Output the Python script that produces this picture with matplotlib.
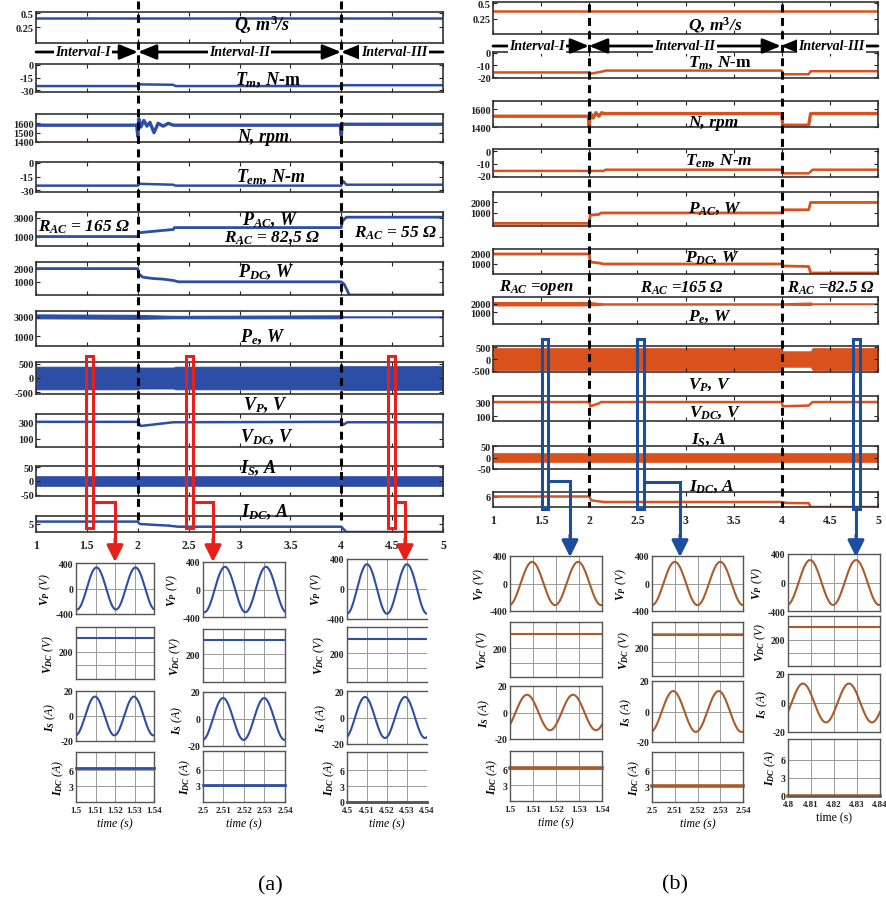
import numpy as np
import matplotlib
matplotlib.use('Agg')
import matplotlib.pyplot as plt
from matplotlib.patches import Rectangle
from matplotlib.transforms import blended_transform_factory

# ---------------- data ----------------
# (a) AC load on the generator terminals
q_a_t, q_a = [1, 5], [0.42, 0.42]
tm_a_t = [1, 2, 2.02, 2.35, 2.37, 4, 4.02, 5]
tm_a = [-25, -25, -23, -23.5, -25, -25, -24, -24]
n_a_t = [1, 1.99, 2.0, 2.01, 2.03, 2.06, 2.09, 2.12, 2.16, 2.2, 2.25, 2.3, 2.35, 3.99, 4.0, 4.01, 4.03, 5]
n_a = [1580, 1580, 1460, 1650, 1560, 1630, 1570, 1610, 1500, 1600, 1570, 1600, 1580, 1580, 1470, 1600, 1590, 1590]
tem_a_t = [1, 2, 2.02, 2.35, 2.37, 4, 4.02, 4.05, 5]
tem_a = [-25, -25, -23, -24, -25, -25, -20, -24, -24]
pac_a_t = [1, 2, 2.01, 2.1, 2.2, 2.3, 2.35, 2.36, 4, 4.01, 4.05, 5]
pac_a = [1000, 1000, 1400, 1500, 1600, 1700, 1750, 1950, 1950, 2600, 3050, 3050]
pdc_a_t = [1, 2, 2.01, 2.05, 2.15, 2.25, 2.35, 2.4, 4, 4.03, 4.08, 5]
pdc_a = [2000, 2000, 1600, 1350, 1250, 1200, 1100, 1000, 1000, 800, 0, 0]
pe_a_t = [1, 2, 2.35, 4, 4.02, 5]
pe_a_lo = [2850, 2800, 2850, 2850, 2950, 2950]
pe_a_hi = [3250, 3200, 3100, 3150, 3050, 3050]
vp_a_t = [1, 2, 2.02, 2.35, 2.37, 4, 4.02, 5]
vp_a_env = [400, 400, 370, 370, 400, 400, 420, 420]
vdc_a_t = [1, 2, 2.03, 2.35, 4, 4.02, 4.06, 5]
vdc_a = [305, 305, 255, 300, 305, 270, 300, 300]
is_a_t, is_a_env = [1, 5], [20, 20]
idc_a_t = [1, 2, 2.02, 2.15, 2.3, 2.4, 4, 4.05, 5]
idc_a = [6.5, 6.5, 5, 4.5, 4, 3.3, 3.3, 0, 0]

# (b) AC load switched from open
q_b_t, q_b = [1, 5], [0.37, 0.37]
tm_b_t = [1, 2, 2.02, 2.15, 2.17, 4, 4.01, 4.28, 4.3, 5]
tm_b = [-16, -16, -17, -15, -14.5, -14.5, -17.5, -17.5, -15, -15]
n_b_t = [1, 1.99, 2.0, 2.01, 2.04, 2.07, 2.1, 2.13, 2.15, 4, 4.01, 4.28, 4.3, 5]
n_b = [1520, 1520, 1400, 1560, 1500, 1560, 1520, 1560, 1550, 1550, 1420, 1420, 1550, 1550]
tem_b_t = [1, 2, 2.15, 2.17, 4, 4.01, 4.28, 4.32, 5]
tem_b = [-16, -16, -16, -15, -15, -18, -18, -15, -15]
pac_b_t = [1, 2, 2.01, 2.1, 2.12, 4, 4.01, 4.28, 4.3, 5]
pac_b = [0, 0, 800, 850, 1000, 1000, 1300, 1300, 2000, 2000]
pdc_b_t = [1, 2, 2.01, 2.1, 2.15, 4, 4.01, 4.28, 4.3, 5]
pdc_b = [2000, 2000, 1200, 1100, 1000, 1000, 800, 750, 100, 100]
pe_b_t = [1, 2, 2.15, 4, 4.3, 4.32, 5]
pe_b_lo = [1800, 1800, 1900, 1900, 1850, 1950, 1950]
pe_b_hi = [2200, 2200, 2050, 2050, 2150, 2050, 2050]
vp_b_t = [1, 4, 4.01, 4.3, 4.32, 5]
vp_b_env = [470, 470, 330, 330, 470, 470]
vdc_b_t = [1, 2, 2.01, 2.1, 2.12, 4, 4.01, 4.28, 4.32, 5]
vdc_b = [300, 300, 240, 280, 300, 300, 240, 250, 300, 300]
is_b_t, is_b_env = [1, 5], [22, 22]
idc_b_t = [1, 2, 2.02, 2.1, 2.15, 4, 4.05, 4.28, 4.3, 5]
idc_b = [6.3, 6.3, 4, 3.4, 3, 3, 2.4, 2.3, 0, 0]

# zoomed windows (start time, 50 Hz waveforms: amplitude and time of first peak)
freq = 50
win_a = [1.5, 2.5, 4.5]
vp_amp_a, vp_peak_a = [330, 330, 330], [1.5105, 2.5107, 4.5100]
is_amp_a, is_peak_a = [15.5, 15.5, 15.5], [1.5097, 2.5098, 4.5090]
vdc_win_a = [300, 300, 300]
idc_win_a = [6.5, 3.2, 0]
win_b = [1.5, 2.5, 4.8]
vp_amp_b, vp_peak_b = [315, 315, 315], [1.5096, 2.5100, 4.8096]
is_amp_b, is_peak_b = [13.4, 13.4, 13.4], [1.5074, 2.5093, 4.8065]
vdc_win_b = [300, 290, 300]
idc_win_b = [6.3, 3.0, 0]

# ---------------- figure ----------------
plt.rcParams['font.family'] = 'Liberation Serif'
plt.rcParams['font.weight'] = 'bold'
plt.rcParams['axes.unicode_minus'] = False
plt.rcParams['mathtext.fontset'] = 'custom'
plt.rcParams['mathtext.it'] = 'Liberation Serif:italic:bold'
plt.rcParams['mathtext.rm'] = 'Liberation Serif'
plt.rcParams['mathtext.bf'] = 'Liberation Serif:bold'

W, H = 886, 903
fig = plt.figure(figsize=(W / 100, H / 100), dpi=100)

BLUE = '#2d4ea6'
ORANGE = '#d9521d'
BROWN = '#ad5a2b'
RED = '#e8201c'
NAVY = '#1d4e9c'


def pax(x0, y0, x1, y1):
    return fig.add_axes([x0 / W, 1 - y1 / H, (x1 - x0) / W, (y1 - y0) / H])


def strip(xr, yr, ylim, yt, last=False):
    ax = pax(xr[0], yr[0], xr[1], yr[1])
    ax.set_xlim(1, 5)
    ax.set_ylim(*ylim)
    ax.set_xticks(np.arange(1, 5.01, 0.5))
    ax.set_yticks(yt)
    ax.set_yticklabels([f'{v:g}' for v in yt])
    ax.tick_params(direction='in', top=True, right=True, length=3, width=0.8,
                   labelsize=7.5, pad=1.5, colors='#222')
    if last:
        ax.set_xticklabels([f'{v:g}' for v in np.arange(1, 5.01, 0.5)])
        ax.tick_params(axis='x', labelsize=8.5, pad=5)
    else:
        ax.set_xticklabels([])
    for s in ax.spines.values():
        s.set_linewidth(1.2)
        s.set_color('#333')
    return ax


def panel(xr, yrs, col, data, lim_y):
    (ta, qa, tmt, tm, nt, n, temt, tem, pact, pac, pdct, pdc, pet, pelo, pehi,
     vpt, vpe, vdct, vdc, ist, ise, idct, idc) = data
    axs = []
    ax = strip(xr, yrs[0], *lim_y[0]); ax.plot(ta, qa, color=col, lw=1.8); axs.append(ax)
    ax = strip(xr, yrs[1], *lim_y[1]); ax.plot(tmt, tm, color=col, lw=1.8); axs.append(ax)
    ax = strip(xr, yrs[2], *lim_y[2]); ax.plot(nt, n, color=col, lw=2.4); axs.append(ax)
    ax = strip(xr, yrs[3], *lim_y[3]); ax.plot(temt, tem, color=col, lw=1.8); axs.append(ax)
    ax = strip(xr, yrs[4], *lim_y[4]); ax.plot(pact, pac, color=col, lw=2.0); axs.append(ax)
    ax = strip(xr, yrs[5], *lim_y[5]); ax.plot(pdct, pdc, color=col, lw=2.0); axs.append(ax)
    ax = strip(xr, yrs[6], *lim_y[6]); ax.fill_between(pet, pelo, pehi, color=col, lw=0.8); axs.append(ax)
    ax = strip(xr, yrs[7], *lim_y[7])
    ax.fill_between(vpt, -np.array(vpe), vpe, color=col, lw=0.5); axs.append(ax)
    ax = strip(xr, yrs[8], *lim_y[8]); ax.plot(vdct, vdc, color=col, lw=1.8); axs.append(ax)
    ax = strip(xr, yrs[9], *lim_y[9])
    ax.fill_between(ist, -np.array(ise), ise, color=col, lw=0.5); axs.append(ax)
    ax = strip(xr, yrs[10], *lim_y[10], last=True); ax.plot(idct, idc, color=col, lw=1.8); axs.append(ax)
    return axs


rows_a = [(13, 44), (65, 93), (115, 143), (163, 193), (213, 247), (263, 296),
          (312, 347), (363, 395), (415, 448), (467, 497), (517, 533)]
lims_a = [((-0.03, 0.52), [0.25, 0.5]), ((-32, 1), [-30, -15, 0]), ((1400, 1700), [1400, 1500, 1600]),
          ((-32, 1), [-30, -15, 0]), ((0, 3600), [1000, 3000]), ((0, 2500), [1000, 2000]),
          ((0, 3600), [1000, 3000]), ((-560, 560), [-500, 0, 500]), ((0, 400), [100, 300]),
          ((-55, 55), [-50, 0, 50]), ((0, 10), [5])]
rows_b = [(3, 35), (53, 79), (102, 128), (150, 178), (193, 227), (250, 275),
          (298, 325), (347, 373), (397, 422), (447, 470), (493, 508)]
lims_b = [((0, 0.52), [0.25, 0.5]), ((-20.5, 0.5), [-20, -10, 0]), ((1400, 1690), [1400, 1600]),
          ((-21, 2), [-20, -10, 0]), ((-250, 3000), [1000, 2000]), ((0, 2500), [1000, 2000]),
          ((-400, 2800), [1000, 2000]), ((-550, 550), [-500, 0, 500]), ((30, 386), [100, 300]),
          ((-52, 52), [-50, 0, 50]), ((0, 9), [6])]

data_a = (q_a_t, q_a, tm_a_t, tm_a, n_a_t, n_a, tem_a_t, tem_a, pac_a_t, pac_a, pdc_a_t, pdc_a,
          pe_a_t, pe_a_lo, pe_a_hi, vp_a_t, vp_a_env, vdc_a_t, vdc_a, is_a_t, is_a_env, idc_a_t, idc_a)
data_b = (q_b_t, q_b, tm_b_t, tm_b, n_b_t, n_b, tem_b_t, tem_b, pac_b_t, pac_b, pdc_b_t, pdc_b,
          pe_b_t, pe_b_lo, pe_b_hi, vp_b_t, vp_b_env, vdc_b_t, vdc_b, is_b_t, is_b_env, idc_b_t, idc_b)

axs_a = panel((36, 443), rows_a, BLUE, data_a, lims_a)
axs_b = panel((493, 878), rows_b, ORANGE, data_b, lims_b)


# ---------------- zoomed windows ----------------
def zoom_col(xr, yrs, t0, amp_vp, pk_vp, vdc, amp_is, pk_is, idc, col, idc_lw,
             upright_time=False, no_right=False):
    t = np.linspace(t0, t0 + 0.04, 400)
    xt = t0 + np.arange(0, 0.0401, 0.01)
    xtl = [f'{v:g}' for v in np.round(xt, 2)]
    specs = [
        ((-400, 400), [-400, 0, 400], ['-400', '0', '400'], r'$V_P$ (V)'),
        ((0, 380), [100, 200, 300], ['', '200', ''], r'$V_{DC}$ (V)'),
        ((-20, 20), [-20, 0, 20], ['-20', '0', '20'], r'$I_S$ (A)'),
        ((0, 9.5), [0, 3, 6] if idc == 0 else [3, 6], ['0', '3', '6'] if idc == 0 else ['3', '6'],
         r'$I_{DC}$ (A)'),
    ]
    ys = [amp_vp * np.sin(2 * np.pi * freq * (t - pk_vp) + np.pi / 2),
          np.full_like(t, vdc),
          amp_is * np.sin(2 * np.pi * freq * (t - pk_is) + np.pi / 2),
          np.full_like(t, idc)]
    for k, (yr, (ylim, yt, ytl, lab)) in enumerate(zip(yrs, specs)):
        ax = pax(xr[0], yr[0], xr[1], yr[1])
        ax.plot(t, ys[k], color=col, lw=idc_lw if k == 3 else 1.5, clip_on=(k != 3))
        ax.set_xlim(t0, t0 + 0.04)
        ax.set_ylim(*ylim)
        ax.set_xticks(xt)
        ax.set_yticks(yt)
        ax.set_yticklabels(ytl)
        ax.grid(True, color='#9a9a9a', lw=0.7)
        ax.tick_params(length=0, labelsize=7, pad=2, colors='#222')
        ax.set_ylabel(lab, fontsize=8.5, style='italic', labelpad=2)
        for s in ax.spines.values():
            s.set_linewidth(1.0)
            s.set_color('#555')
        if no_right:
            ax.spines['right'].set_visible(False)
        if k == 3:
            ax.set_xticklabels(xtl)
            ax.tick_params(axis='x', labelsize=6.5, pad=3)
            ax.set_xlabel('time (s)', fontsize=8.5, style='normal' if upright_time else 'italic',
                          labelpad=2)
        else:
            ax.set_xticklabels([])


zc_a = [(76, 154), (203, 285), (347, 427)]
zr_a = [[(564, 615), (628, 680), (692, 742), (753, 803)],
        [(563, 618), (630, 683), (693, 747), (752, 803)],
        [(560, 620), (628, 683), (692, 745), (753, 803)]]
zc_b = [(510, 602), (652, 743), (788, 880)]
zr_b = [[(557, 612), (623, 678), (687, 740), (752, 802)],
        [(557, 612), (623, 677), (682, 743), (753, 803)],
        [(555, 612), (617, 667), (675, 733), (740, 797)]]
for i in range(3):
    zoom_col(zc_a[i], zr_a[i], win_a[i], vp_amp_a[i], vp_peak_a[i], vdc_win_a[i],
             is_amp_a[i], is_peak_a[i], idc_win_a[i], BLUE, 2.0, no_right=(i == 2))
    zoom_col(zc_b[i], zr_b[i], win_b[i], vp_amp_b[i], vp_peak_b[i], vdc_win_b[i],
             is_amp_b[i], is_peak_b[i], idc_win_b[i], BROWN, 2.6, upright_time=(i == 2))

# ---------------- overlay: labels, intervals, markers ----------------
ov = fig.add_axes([0, 0, 1, 1])
ov.set_xlim(0, W)
ov.set_ylim(H, 0)
ov.axis('off')
ov.patch.set_visible(False)
ov.set_zorder(10)

LBL = dict(ha='center', va='center', style='italic', weight='bold')
labels_a = [(262, 25, r'Q, m$^{3}$/s'), (268, 80, r'$T_m$, $N$-$\mathrm{m}$'), (263, 137, 'N, rpm'),
            (271, 177, r'$T_{em}$, N-m'), (270, 220, r'$P_{AC}$, W'), (267, 272, r'$P_{DC}$, W'),
            (263, 337, r'$P_e$, W'), (265, 405, r'$V_P$, V'), (267, 437, r'$V_{DC}$, V'),
            (258, 468, r'$I_S$, A'), (265, 512, r'$I_{DC}$, A')]
for x, y, s in labels_a:
    ov.text(x, y, s, fontsize=13, **LBL)
ov.text(84, 227, r'$R_{AC}$ = 165 Ω', fontsize=12.5, **LBL)
ov.text(272, 238, r'$R_{AC}$ = 82,5 Ω', fontsize=12.5, **LBL)
ov.text(396, 233, r'$R_{AC}$ = 55 Ω', fontsize=12.5, **LBL)

labels_b = [(715, 25, r'Q, m$^{3}$/s'), (720, 63, r'$T_m$, $N$-$\mathrm{m}$'), (713, 123, 'N, rpm'),
            (719, 161, r'$T_{em}$, N-m'), (715, 209, r'$P_{AC}$, W'), (713, 258, r'$P_{DC}$, W'),
            (710, 317, r'$P_e$, W'), (709, 385, r'$V_P$, V'), (715, 413, r'$V_{DC}$, V'),
            (709, 440, r'$I_S$, A'), (712, 487, r'$I_{DC}$, A')]
for x, y, s in labels_b:
    ov.text(x, y, s, fontsize=12.5, **LBL)
ov.text(537, 288, r'$R_{AC}$ =open', fontsize=12, **LBL)
ov.text(682, 288, r'$R_{AC}$ =165 Ω', fontsize=12, **LBL)
ov.text(831, 288, r'$R_{AC}$ =82.5 Ω', fontsize=12, **LBL)

# interval boundaries (t = 2 s and t = 4 s)
for axs, y0, y1 in [(axs_a, 2, 521), (axs_b, 5, 508)]:
    tr = blended_transform_factory(axs[0].transData, ov.transData)
    for tb in [2, 4]:
        ov.plot([tb, tb], [y0, y1], color='k', lw=2.2, ls=(0, (2.6, 1.8)), transform=tr, clip_on=False)


def intervals(y, xl, xa, xb, xr, fs):
    ap = dict(lw=2, color='k', shrinkA=0, shrinkB=0, mutation_scale=10)
    ov.annotate('', xy=(xa, y), xytext=(xl, y),
                arrowprops=dict(arrowstyle='-|>,head_length=1.1,head_width=0.45', **ap))
    ov.annotate('', xy=(xb, y), xytext=(xa, y),
                arrowprops=dict(arrowstyle='<|-|>,head_length=1.1,head_width=0.45', **ap))
    ov.annotate('', xy=(xr, y), xytext=(xb, y),
                arrowprops=dict(arrowstyle='<|-,head_length=1.1,head_width=0.45', **ap))
    bb = dict(facecolor='white', edgecolor='none', pad=1)
    ov.text((xl + xa) / 2 - 4, y, 'Interval-I', fontsize=fs, bbox=bb, **LBL)
    ov.text((xa + xb) / 2, y, 'Interval-II', fontsize=fs, bbox=bb, **LBL)
    ov.text((xb + xr) / 2 + 2, y, 'Interval-III', fontsize=fs, bbox=bb, **LBL)


intervals(53, 36, 138, 341, 443, 10)
intervals(47, 493, 589, 781, 878, 10)

# zoom markers (a): red
for (xa, xb), xarr in zip([(86, 93), (186, 193), (388, 395)], [115, 213, 405]):
    ov.add_patch(Rectangle((xa, 357), xb - xa, 172, fill=False, ec=RED, lw=2.2))
    ov.plot([xb, xarr, xarr], [503, 503, 545], color=RED, lw=2.2, solid_joinstyle='miter')
    ov.annotate('', xy=(xarr, 563), xytext=(xarr, 540),
                arrowprops=dict(arrowstyle='-|>,head_length=1.0,head_width=0.5', lw=2.2,
                                color=RED, shrinkA=0, shrinkB=0, mutation_scale=10))

# zoom markers (b): blue
for (xa, xb), xarr, yc in zip([(542, 548), (637, 644), (853, 860)], [570, 680, 856], [482, 483, None]):
    ov.add_patch(Rectangle((xa, 340), xb - xa, 170, fill=False, ec=NAVY, lw=2.2))
    if yc is not None:
        ov.plot([xb, xarr, xarr], [yc, yc, 540], color=NAVY, lw=2.2, solid_joinstyle='miter')
    else:
        ov.plot([xarr, xarr], [510, 540], color=NAVY, lw=2.2)
    ov.annotate('', xy=(xarr, 558), xytext=(xarr, 536),
                arrowprops=dict(arrowstyle='-|>,head_length=1.0,head_width=0.5', lw=2.2,
                                color=NAVY, shrinkA=0, shrinkB=0, mutation_scale=10))

ov.text(270, 886, '(a)', fontsize=16, weight='normal', ha='center', va='center')
ov.text(675, 885, '(b)', fontsize=16, weight='normal', ha='center', va='center')

fig.savefig('out.png', dpi=100)
